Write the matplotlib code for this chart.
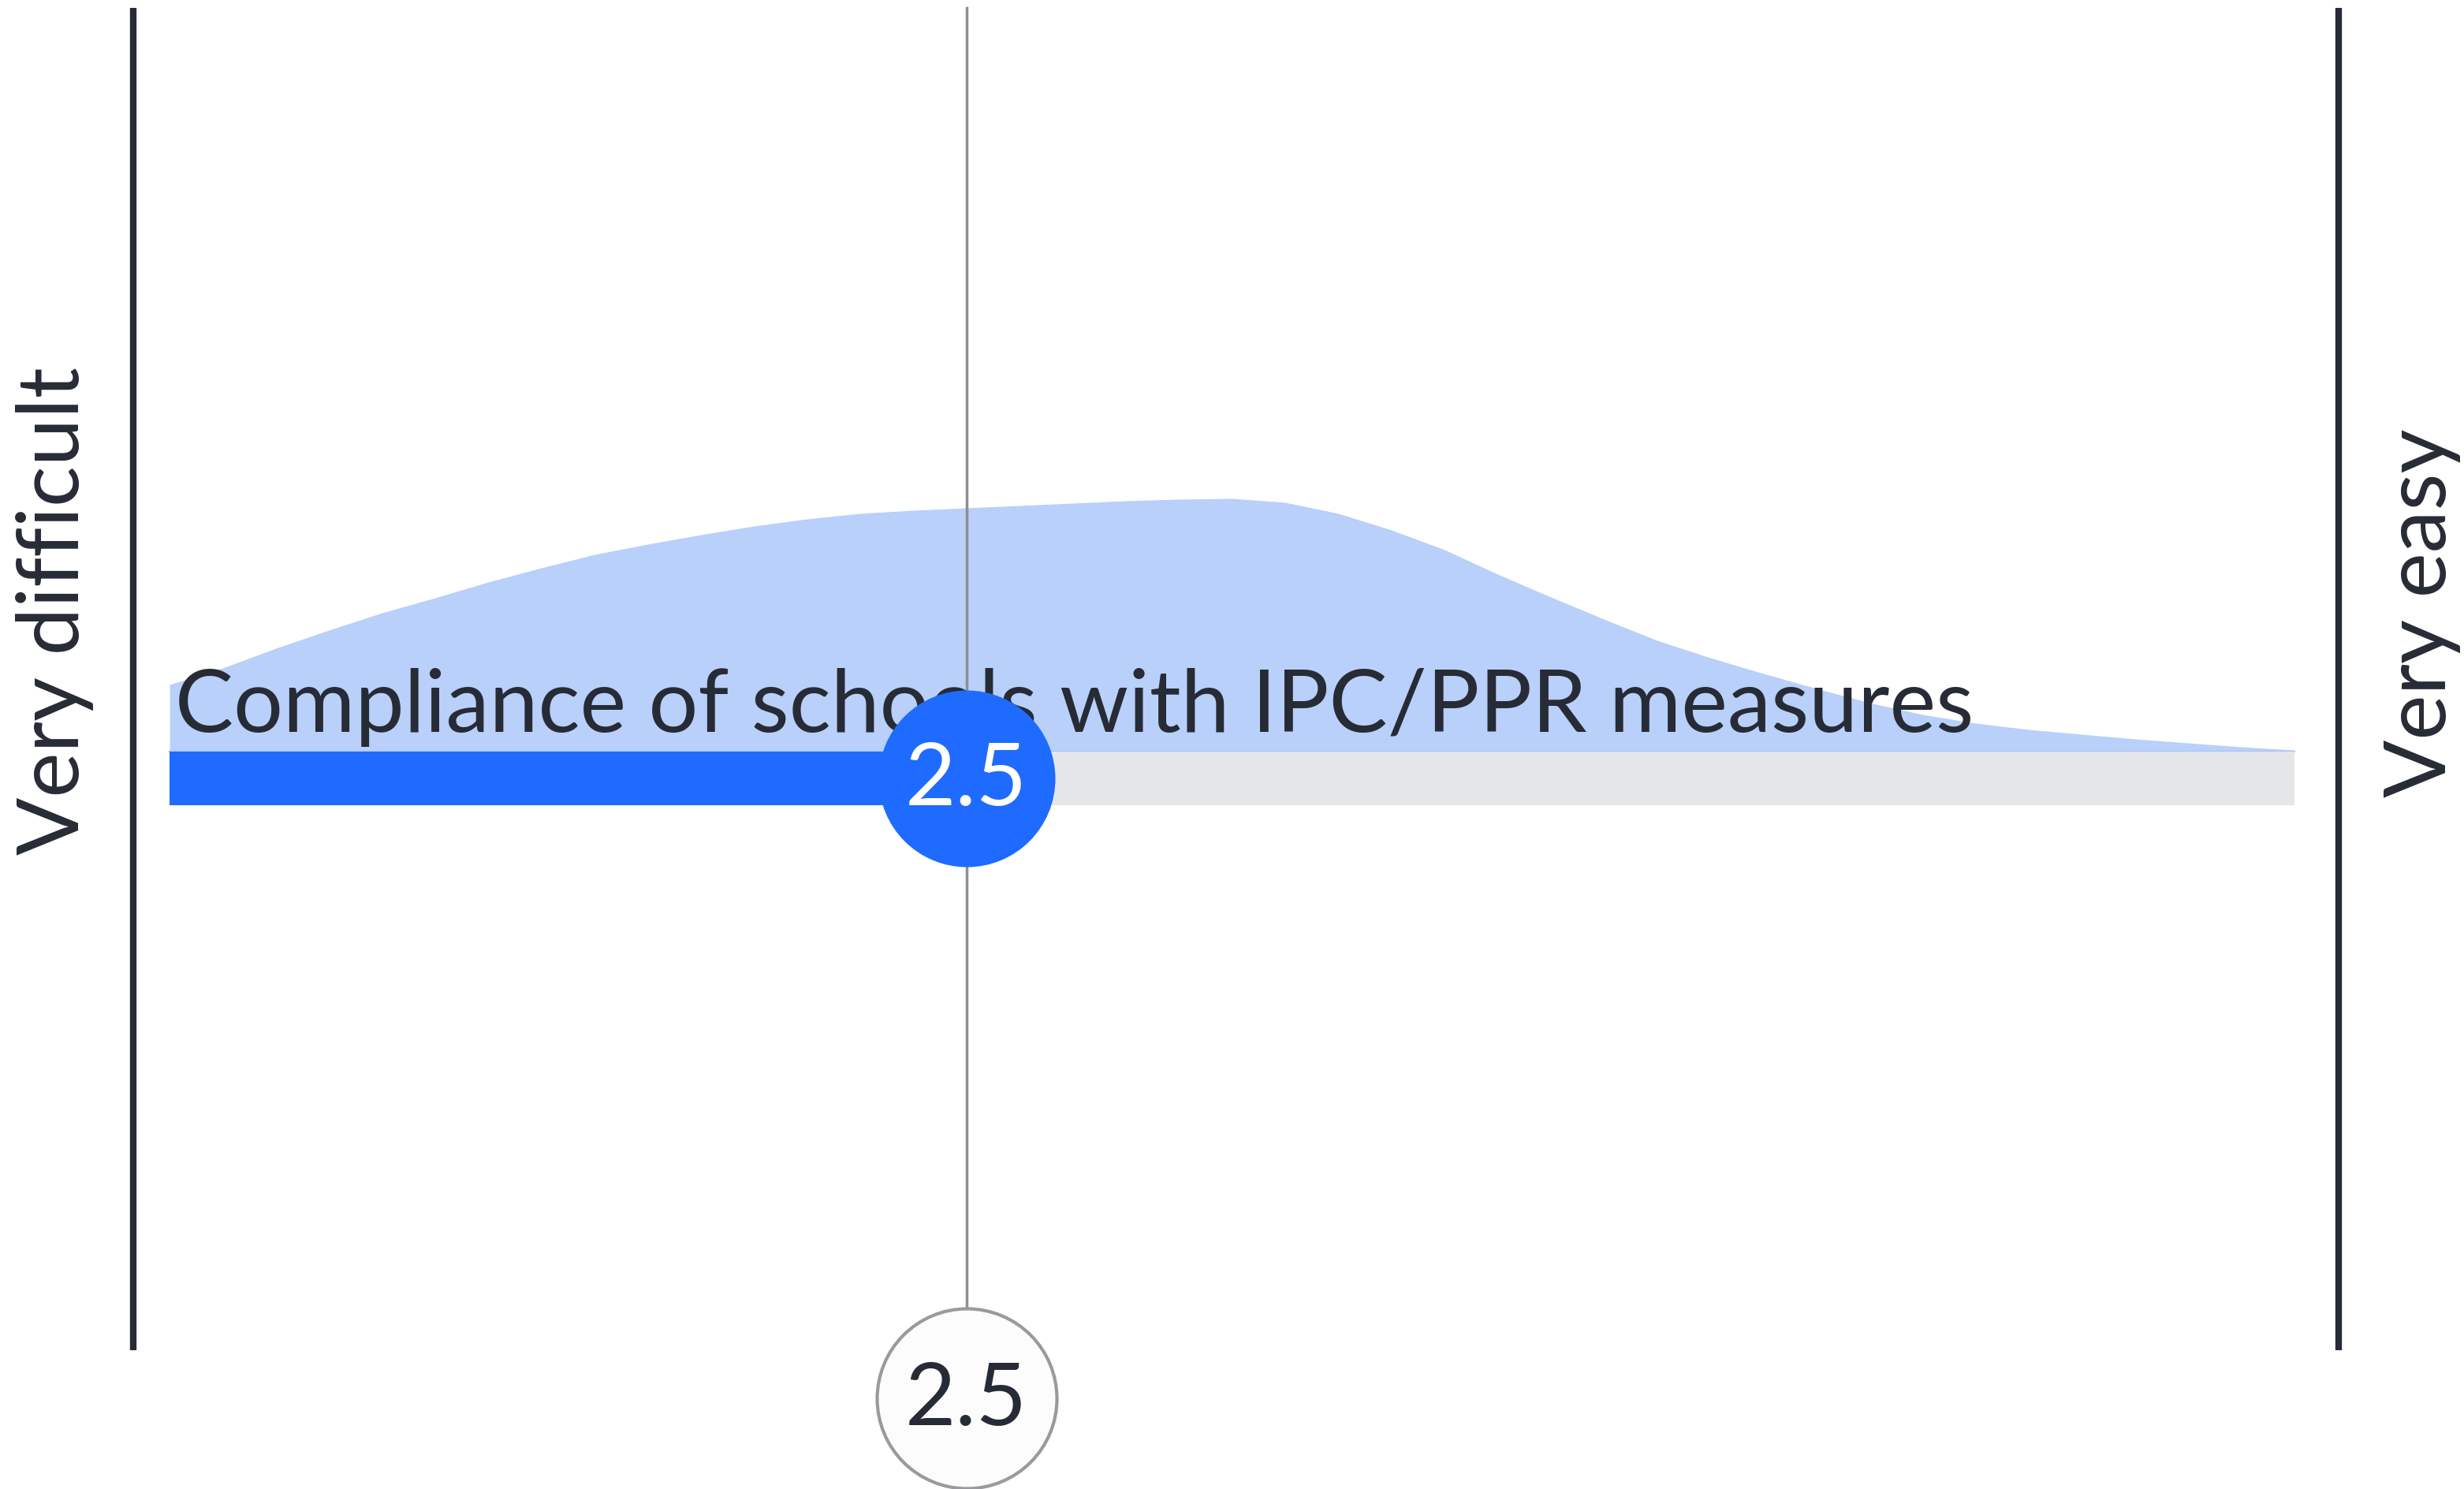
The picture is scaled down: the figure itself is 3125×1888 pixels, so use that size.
import matplotlib
matplotlib.use("Agg")
import matplotlib.pyplot as plt

# scale and answers
scale_min = 1
scale_max = 5
mean_score = 2.5
low_label = "Very difficult"
high_label = "Very easy"
question = "Compliance of schools with IPC/PPR measures"

# distribution of answers (height above the bar, px)
density_x = [1.0, 1.1, 1.2, 1.3, 1.4, 1.5, 1.6, 1.7, 1.8, 1.9,
             2.0, 2.1, 2.2, 2.3, 2.4, 2.5, 2.6, 2.7, 2.8, 2.9,
             3.0, 3.1, 3.2, 3.3, 3.4, 3.5, 3.6, 3.7, 3.8, 3.9,
             4.0, 4.1, 4.2, 4.3, 4.4, 4.5, 4.6, 4.7, 4.8, 4.9, 5.0]
density_h = [85, 106, 131, 154, 176, 195, 215, 233, 250, 263,
             275, 286, 295, 302, 306, 309, 312, 315, 318, 320,
             321, 316, 302, 281, 256, 225, 196, 168, 141, 119,
             99, 80, 62, 47, 36, 28, 22, 16, 11, 6, 2]

BLUE = "#1f6bff"
LIGHT = "#b8d0fa"
GREY_BAR = "#e5e6e8"
DARK = "#272b35"
MID = "#8e8e93"

plt.rcParams['font.family'] = ['Lato', 'DejaVu Sans']

W, H, DPI = 3125, 1888, 100
fig = plt.figure(figsize=(W / DPI, H / DPI), dpi=DPI)
ax = fig.add_axes([0, 0, 1, 1])
ax.axis('off')

# x in scale units (1 -> px 215, 5 -> px 2910), y in pixels from the top
unit = (2910 - 215) / (scale_max - scale_min)
ax.set_xlim(scale_min - 215 / unit, scale_max + (W - 2910) / unit)
ax.set_ylim(H, 0)

bar_top, bar_bot = 953, 1021
bar_mid = (bar_top + bar_bot) / 2

# density area
ax.fill_between(density_x, [bar_top - h for h in density_h], bar_top,
                color=LIGHT, lw=0, zorder=1)
ax.plot([scale_min, scale_max], [bar_top, bar_top], color="#a9c3f2", lw=1.5, zorder=1)

# track and filled part
ax.fill_between([scale_min, scale_max], bar_top, bar_bot, color=GREY_BAR, lw=0, zorder=2)
ax.fill_between([scale_min, mean_score], bar_top, bar_bot, color=BLUE, lw=0, zorder=3)

# end lines
ax.plot([scale_min - 46 / unit] * 2, [10, 1712], color=DARK, lw=6, solid_capstyle='butt', zorder=2)
ax.plot([scale_max + 56 / unit] * 2, [10, 1712], color=DARK, lw=6, solid_capstyle='butt', zorder=2)

# mean line
ax.plot([mean_score, mean_score], [10, 1658], color=MID, lw=2.5, zorder=2)

# question text, sized to its width in the picture
t = ax.text(scale_min + 7 / unit, 928, question, fontsize=78, color=DARK,
            ha='left', va='baseline', zorder=4)
fig.canvas.draw()
w = t.get_window_extent(fig.canvas.get_renderer()).width
t.set_fontsize(78 * 2283 / w)

# value markers
ax.scatter([mean_score], [bar_mid], s=(224 * 72 / DPI) ** 2, color=BLUE, lw=0, zorder=5)
ax.text(mean_score, bar_mid + 3, f"{mean_score}", fontsize=80, color='white',
        ha='center', va='center', zorder=6)

ax.scatter([mean_score], [1773], s=(228 * 72 / DPI) ** 2, color='#fcfcfc',
           edgecolor='#9a9a9e', lw=3, zorder=5)
ax.text(mean_score, 1776, f"{mean_score}", fontsize=80, color=DARK,
        ha='center', va='center', zorder=6)

# end labels
ax.text(scale_min - 145 / unit, 775, low_label, fontsize=78, color=DARK,
        rotation=90, ha='center', va='center')
ax.text(scale_max + 162 / unit, 777, high_label, fontsize=78, color=DARK,
        rotation=90, ha='center', va='center')

fig.savefig("out.png", dpi=DPI, facecolor='white')
